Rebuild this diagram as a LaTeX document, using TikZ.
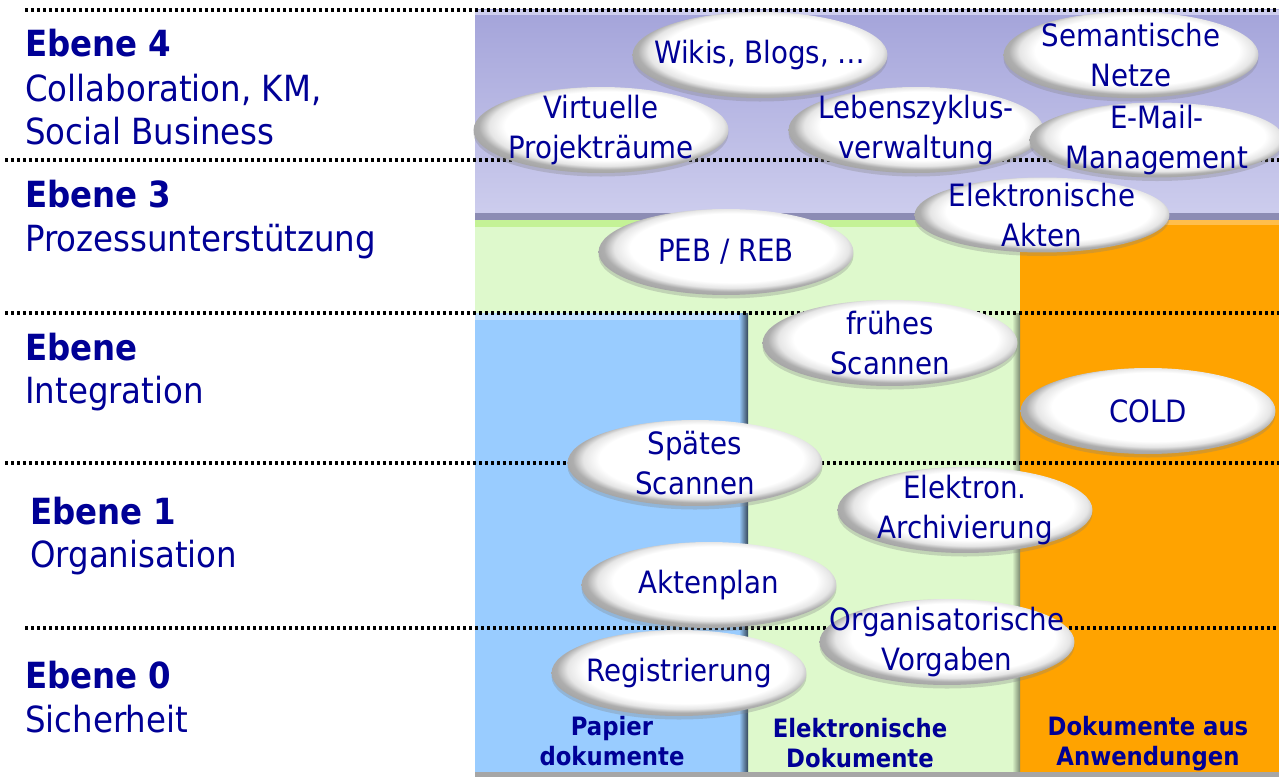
\documentclass[tikz,border=0pt]{standalone}
\usepackage{fontspec}
\setmainfont{DejaVu Sans Condensed}
\usetikzlibrary{shapes.geometric, shadows}

\definecolor{ebenenblau}{RGB}{0,0,150}
\definecolor{lila}{RGB}{164,164,218}
\definecolor{lilahell}{RGB}{206,206,238}
\definecolor{lilakante}{RGB}{140,140,180}
\definecolor{gruen}{RGB}{222,249,204}
\definecolor{gruenkante}{RGB}{196,242,150}
\definecolor{anwendorange}{RGB}{255,163,0}
\definecolor{papierblau}{RGB}{153,204,255}

\pgfdeclareradialshading{blase}{\pgfpoint{2bp}{4bp}}{color(0bp)=(white); color(20bp)=(white); color(23bp)=(black!10); color(25bp)=(black!32); color(30bp)=(black!40); color(50bp)=(black!40)}

\begin{document}
\begin{tikzpicture}[x=0.02cm, y=-0.02cm,
  ebene/.style={anchor=base west, inner sep=0pt, text=ebenenblau, font=\fontsize{20.5}{24.4}\selectfont},
  titel/.style={ebene, font=\fontsize{20.5}{24.4}\selectfont\bfseries},
  trenner/.style={line width=0.075cm, dash pattern=on 0.07cm off 0.05cm},
  bubble/.style={ellipse, minimum width=5.1cm, minimum height=1.72cm, inner sep=0pt, shade, shading=blase,
    drop shadow={opacity=0.3, shadow xshift=0pt, shadow yshift=-2pt}},
  btext/.style={align=center, inner sep=0pt, text=ebenenblau, font=\fontsize{17.5}{22.7}\selectfont},
  spalte/.style={align=center, inner sep=0pt, text=ebenenblau, font=\fontsize{14.4}{17}\selectfont\bfseries}]

\useasboundingbox (0,0) rectangle (1279,777);
\fill[white] (0,0) rectangle (1279,777);

% die drei Spalten und der obere Block
\shade[top color=lila, bottom color=lilahell] (475,10) rectangle (1279,220);
\fill[lilahell] (475,10) rectangle (1279,15);
\fill[lilakante] (475,213) rectangle (1279,220);
\fill[gruen] (475,220) rectangle (1020,777);
\fill[gruenkante] (475,220) rectangle (1020,227);
\fill[anwendorange] (1020,220) rectangle (1279,777);
\fill[anwendorange!70!white] (1020,220) rectangle (1279,225);
\shade[left color=gruen, right color=gruen!55!black] (1012,313) rectangle (1020,777);
\fill[papierblau] (475,313) rectangle (748,777);
\fill[papierblau!60!white] (475,313) rectangle (748,320);
\shade[left color=papierblau, right color=papierblau!35!black] (739,313) rectangle (748,777);
\fill[black!35] (475,772) rectangle (1279,777);

% Trennlinien der Ebenen
\draw[trenner] (25,10) -- (1279,10);
\draw[trenner] (5,160) -- (1279,160);
\draw[trenner] (5,313) -- (1279,313);
\draw[trenner] (5,463) -- (1279,463);
\draw[trenner] (25,628) -- (1279,628);

% Ebenen links
\node[titel] (e4) at (25,57) {Ebene 4};
\node[ebene] (e4a) at (25,102) {Collaboration, KM,};
\node[ebene] (e4b) at (25,145) {Social Business};
\node[titel] (e3) at (25,208) {Ebene 3};
\node[ebene] (e3a) at (25,252) {Prozessunterstützung};
\node[titel] (e2) at (25,360) {Ebene};
\node[ebene] (e2a) at (25,403) {Integration};
\node[titel] (e1) at (30,524) {Ebene 1};
\node[ebene] (e1a) at (30,567) {Organisation};
\node[titel] (e0) at (25,688) {Ebene 0};
\node[ebene] (e0a) at (25,732) {Sicherheit};

% Blasen
\node[bubble] (wikis) at (760,55) {};
\node[btext] (wikis-t) at (wikis) {Wikis, Blogs, …};
\node[bubble] (netze) at (1131,55) {};
\node[btext] (netze-t) at (netze) {Semantische\\Netze};
\node[bubble] (virtuell) at (601,130) {};
\node[btext] (virtuell-t) at (virtuell) {Virtuelle\\Projekträume};
\node[bubble] (zyklus) at (916,130) {};
\node[btext] (zyklus-t) at (zyklus) {Lebenszyklus-\\verwaltung};
\node[bubble, minimum height=1.5cm] (email) at (1157,140) {};
\node[btext] (email-t) at (email) {E-Mail-\\Management};
\node[bubble, minimum height=1.5cm] (akten) at (1042,215) {};
\node[btext] (akten-t) at (akten) {Elektronische\\Akten};
\node[bubble] (peb) at (726,252) {};
\node[btext] (peb-t) at (peb) {PEB / REB};
\node[bubble] (frueh) at (890,343) {};
\node[btext] (frueh-t) at (frueh) {frühes\\Scannen};
\node[bubble] (cold) at (1148,411) {};
\node[btext] (cold-t) at (cold) {COLD};
\node[bubble] (spaet) at (695,463) {};
\node[btext] (spaet-t) at (spaet) {Spätes\\Scannen};
\node[bubble] (archiv) at (965,510) {};
\node[btext] (archiv-t) at (archiv) {Elektron.\\Archivierung};
\node[bubble] (plan) at (709,585) {};
\node[btext] (plan-t) at (plan) {Aktenplan};
\node[bubble] (vorgaben) at (947,642) {};
\node[btext] (vorgaben-t) at (vorgaben) {Organisatorische\\Vorgaben};
\node[bubble] (regist) at (679,673) {};
\node[btext] (regist-t) at (regist) {Registrierung};

% Spaltenbeschriftung
\node[spalte] (papier) at (612,741) {Papier\\dokumente};
\node[spalte] (elektr) at (860,743) {Elektronische\\Dokumente};
\node[spalte] (anwend) at (1148,744) {Dokumente aus\\Anwendungen};

\end{tikzpicture}
\end{document}
